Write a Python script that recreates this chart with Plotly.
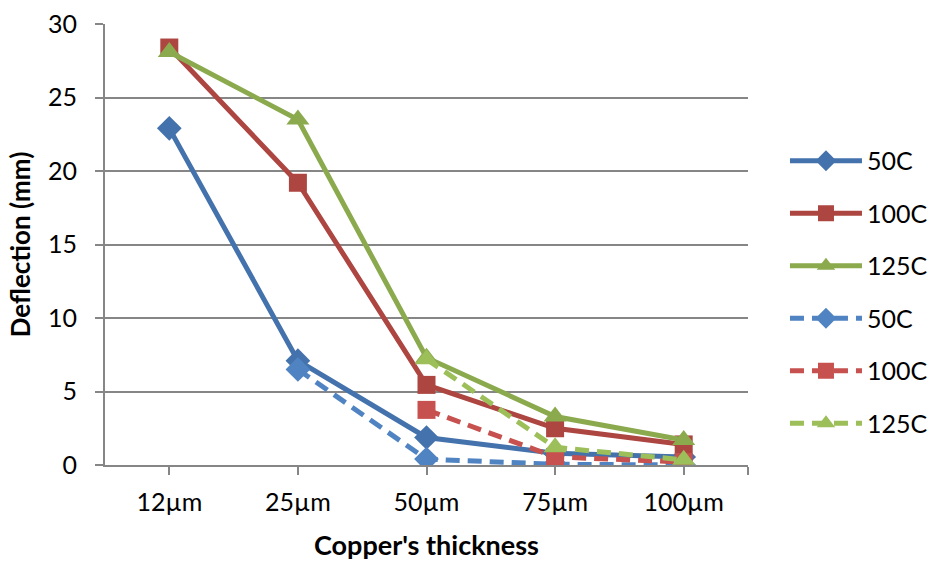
import plotly.graph_objects as go

# Copper thickness categories and measured deflection (mm)
thickness = ["12µm", "25µm", "50µm", "75µm", "100µm"]

solid_50c = [22.9, 7.1, 1.87, 0.8, 0.55]
solid_100c = [28.4, 19.2, 5.45, 2.5, 1.4]
solid_125c = [28.1, 23.5, 7.3, 3.3, 1.7]

dashed_50c = [None, 6.5, 0.4, 0.05, 0.0]
dashed_100c = [None, None, 3.75, 0.55, 0.2]
dashed_125c = [None, None, 7.2, 1.2, 0.35]

y_ticks = [0, 5, 10, 15, 20, 25, 30]

xpos = list(range(len(thickness)))
FONT = "Lato"

series = [
    ("50C", solid_50c, "#4472AC", "solid", "diamond", 19),
    ("100C", solid_100c, "#AD4541", "solid", "square", 18),
    ("125C", solid_125c, "#8BAA4D", "solid", "triangle-up", 20),
    ("50C", dashed_50c, "#5083C2", "14px,8px", "diamond", 19),
    ("100C", dashed_100c, "#C6514E", "14px,8px", "square", 18),
    ("125C", dashed_125c, "#9DBF5A", "14px,8px", "triangle-up", 20),
]

fig = go.Figure()
for i, (name, vals, color, dash, symbol, msize) in enumerate(series):
    fig.add_trace(go.Scatter(
        x=xpos, y=vals, name=name, mode="lines+markers",
        legendgroup=f"g{i}",
        connectgaps=False,
        line=dict(color=color, width=5, dash=dash),
        marker=dict(symbol=symbol, size=msize, color=color,
                    line=dict(width=0)),
    ))

fig.update_layout(
    width=930, height=561,
    margin=dict(l=105, r=182, t=24, b=96, autoexpand=False),
    paper_bgcolor="white", plot_bgcolor="white",
    font=dict(family=FONT, size=25, color="black"),
    showlegend=True,
    legend=dict(
        x=1.0575, xanchor="left", y=0.7415, yanchor="top",
        font=dict(family=FONT, size=25, color="black"),
        tracegroupgap=17, itemwidth=72,
        bgcolor="rgba(0,0,0,0)",
    ),
    xaxis=dict(
        range=[-0.5, 4.5],
        tickmode="array",
        tickvals=xpos + [4.5],
        ticktext=thickness + [""],
        ticks="outside", ticklen=8, tickwidth=2, tickcolor="#868686",
        showline=True, linecolor="#868686", linewidth=2,
        showgrid=False, zeroline=False,
        ticklabelstandoff=6,
        title=dict(text="<b>Copper's thickness</b>", standoff=22,
                   font=dict(family=FONT, size=27)),
    ),
    yaxis=dict(
        range=[0, 30],
        tickmode="array", tickvals=y_ticks,
        ticks="outside", ticklen=8, tickwidth=2, tickcolor="#868686",
        showline=True, linecolor="#868686", linewidth=2,
        showgrid=True, gridcolor="#868686", gridwidth=1.5,
        zeroline=False,
        ticklabelstandoff=13,
        title=dict(text="<b>Deflection (mm)</b>", standoff=10,
                   font=dict(family=FONT, size=26)),
    ),
)

fig.write_html("out.html")
